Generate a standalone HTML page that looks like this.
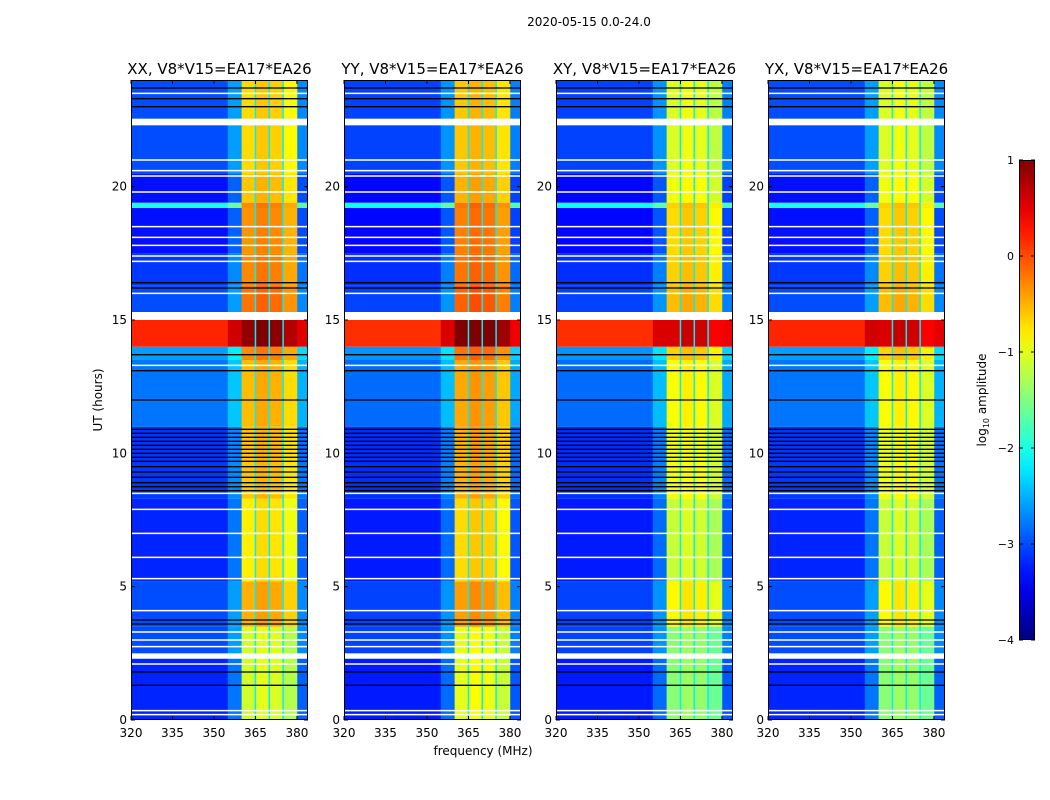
<!DOCTYPE html>
<html><head><meta charset="utf-8">
<style>
html,body{margin:0;padding:0;background:#fff;}
svg{display:block;font-family:"DejaVu Sans","Liberation Sans",sans-serif;}
</style></head>
<body>
<svg id="chart" width="1050" height="800" viewBox="0 0 1050 800">
<text x="589" y="26" font-size="12" text-anchor="middle">2020-05-15 0.0-24.0</text>
<g id="panels"></g>
<g id="cbar"></g>
<text transform="translate(986,400) rotate(-90)" font-size="12" text-anchor="middle">log<tspan font-size="8" dy="3">10</tspan><tspan dy="-3"> amplitude</tspan></text>
</svg>
<script>
// ---- data ----
const panelTitles = ["XX, V8*V15=EA17*EA26","YY, V8*V15=EA17*EA26","XY, V8*V15=EA17*EA26","YX, V8*V15=EA17*EA26"];
const panelBandOffset = [0, 0.1, -0.35, -0.35];
const panelBgOffset = [0, -0.05, -0.05, 0];
const segStart = [0, 2.3, 3.5, 5.2, 8.3, 11, 13.5, 14.0, 15.3, 16.3, 17.5, 19.2, 19.4, 20.5];
const segEnd   = [2.3, 3.5, 5.2, 8.3, 11, 13.5, 14.0, 15.0, 16.3, 17.5, 19.2, 19.4, 20.5, 24];
const segBg    = [-3.2, -3.0, -3.0, -3.2, -3.1, -2.8, -2.6, 0.2, -3.0, -3.1, -3.3, -2.0, -3.3, -3.0];
const segBand  = [-1.1, -1.1, -0.5, -0.8, -0.6, -0.55, -0.3, 0.9, -0.2, -0.3, -0.35, -0.3, -0.6, -0.7];
const subbandFreq = [360, 365, 370, 375];
const subbandDelta = [0, 0.1, 0.05, -0.15];
const whiteFlags = [0.2, 0.35, 2.1, 2.75, 3.0, 3.3, 4.1, 5.3, 6.1, 7.0, 7.9, 8.5, 13.3, 16.0, 17.2, 17.4, 17.8, 18.1, 18.5, 19.8, 20.4, 20.6, 21.0, 23.5];
const whiteBlocks = [[2.3, 2.5], [15.0, 15.3], [22.3, 22.55]];
const blackFlags = [1.3, 1.8, 3.6, 3.75, 8.6, 8.75, 8.9, 9.1, 9.3, 9.5, 9.7, 9.85, 10.0, 10.15, 10.3, 10.45, 10.6, 10.75, 10.9, 12.0, 13.1, 13.7, 16.2, 16.4, 23.0, 23.3, 23.7];
const xTicks = [320, 335, 350, 365, 380];
const yTicks = [0, 5, 10, 15, 20];
const cbarTicks = [1, 0, -1, -2, -3, -4];

// ---- layout ----
const NS = "http://www.w3.org/2000/svg";
const panelLeft = [131, 344, 556, 768];
const PW = 177, PT = 80, PB = 720;
const fMin = 320, fMax = 384, tMax = 24;
function xs(p, f){ return panelLeft[p] + (f - fMin) / (fMax - fMin) * PW; }
function ys(h){ return PB - h / tMax * (PB - PT); }
function jet(v){
  let t = (v + 4) / 5; t = Math.max(0, Math.min(1, t));
  const c = x => Math.round(255 * Math.max(0, Math.min(1, x)));
  return `rgb(${c(1.5-Math.abs(4*t-3))},${c(1.5-Math.abs(4*t-2))},${c(1.5-Math.abs(4*t-1))})`;
}
function mk(tag, attrs, parent){
  const e = document.createElementNS(NS, tag);
  for (const k in attrs) e.setAttribute(k, attrs[k]);
  parent.appendChild(e); return e;
}
const root = document.getElementById("panels");
for (let p = 0; p < 4; p++){
  const g = mk("g", {}, root);
  
  
  for (let s = 0; s < segStart.length; s++){
    const y0 = ys(segEnd[s]), y1 = ys(segStart[s]);
    const bg = segBg[s] + panelBgOffset[p];
    let r = mk("rect", {x: xs(p,320), y: y0, width: xs(p,355)-xs(p,320)+0.5, height: y1-y0, fill: jet(bg)}, g);
    
    
    r = mk("rect", {x: xs(p,355), y: y0, width: xs(p,360)-xs(p,355)+0.5, height: y1-y0, fill: jet(bg + 0.4)}, g);
    
    
    r = mk("rect", {x: xs(p,380), y: y0, width: xs(p,384)-xs(p,380), height: y1-y0, fill: jet(bg + 0.3)}, g);
    
    
    for (let k = 0; k < subbandFreq.length; k++){
      const v = segBand[s] + panelBandOffset[p] + subbandDelta[k];
      r = mk("rect", {x: xs(p,subbandFreq[k]), y: y0, width: xs(p,subbandFreq[k]+5)-xs(p,subbandFreq[k])+0.3, height: y1-y0, fill: jet(v)}, g);
      
      
    }
  }
  for (let k = 1; k < subbandFreq.length; k++){
    const l = mk("line", {x1: xs(p,subbandFreq[k]), x2: xs(p,subbandFreq[k]), y1: PT, y2: PB, stroke: jet(-2.2), "stroke-width": 1.5}, g);
    
    
  }
  for (const b of whiteBlocks){
    const r = mk("rect", {x: panelLeft[p], y: ys(b[1]), width: PW, height: ys(b[0])-ys(b[1]), fill: "#fff"}, g);
    
    
  }
  for (const h of whiteFlags){
    const l = mk("line", {x1: panelLeft[p], x2: panelLeft[p]+PW, y1: ys(h), y2: ys(h), stroke: "#fff", "stroke-width": 1.5}, g);
    
    
  }
  for (const h of blackFlags){
    const l = mk("line", {x1: panelLeft[p], x2: panelLeft[p]+PW, y1: ys(h), y2: ys(h), stroke: "#000", "stroke-width": 1.3}, g);
    
    
  }
  let fr = mk("rect", {x: panelLeft[p]+0.5, y: PT+0.5, width: PW-1, height: PB-PT-1, fill: "none", stroke: "#000", "stroke-width": 1}, g);
  
  
  let t = mk("text", {x: panelLeft[p]+PW/2, y: 74, "font-size": 15, "text-anchor": "middle"}, g);
  t.textContent = panelTitles[p];
  
  
  for (const f of xTicks){
    const x = xs(p,f);
    mk("line", {x1: x, x2: x, y1: PB, y2: PB-4, stroke: "#000"}, g);
    mk("line", {x1: x, x2: x, y1: PT, y2: PT+4, stroke: "#000"}, g);
    t = mk("text", {x: x, y: PB+17, "font-size": 12, "text-anchor": "middle"}, g);
    t.textContent = f;
    
    
  }
  for (const h of yTicks){
    const y = ys(h);
    mk("line", {x1: panelLeft[p], x2: panelLeft[p]+4, y1: y, y2: y, stroke: "#000"}, g);
    mk("line", {x1: panelLeft[p]+PW, x2: panelLeft[p]+PW-4, y1: y, y2: y, stroke: "#000"}, g);
    t = mk("text", {x: panelLeft[p]-4, y: y+4, "font-size": 12, "text-anchor": "end"}, g);
    t.textContent = h;
    
    
  }
}
let xl = mk("text", {x: 483, y: 755, "font-size": 12, "text-anchor": "middle"}, root);
xl.textContent = "frequency (MHz)";


let yl = mk("text", {x: 0, y: 0, "font-size": 12, "text-anchor": "middle", transform: "translate(102,400) rotate(-90)"}, root);
yl.textContent = "UT (hours)";



// colorbar
const cb = document.getElementById("cbar");


const defs = mk("defs", {}, cb);
const grad = mk("linearGradient", {id: "jetg", x1: 0, y1: 1, x2: 0, y2: 0}, defs);
for (let i = 0; i <= 20; i++){
  mk("stop", {offset: i/20, "stop-color": jet(-4 + 5*i/20)}, grad);
}
const CBT = 160, CBB = 640;
function cy(v){ return CBB - (v + 4) / 5 * (CBB - CBT); }
let cr = mk("rect", {x: 1019.5, y: CBT+0.5, width: 15, height: CBB-CBT-1, fill: "url(#jetg)", stroke: "#000", "stroke-width": 1}, cb);


for (const v of cbarTicks){
  const y = cy(v);
  mk("line", {x1: 1019, x2: 1023, y1: y, y2: y, stroke: "#000"}, cb);
  mk("line", {x1: 1035, x2: 1031, y1: y, y2: y, stroke: "#000"}, cb);
  const t = mk("text", {x: 1014, y: y+4, "font-size": 11, "text-anchor": "end"}, cb);
  t.textContent = v < 0 ? "\u2212" + (-v) : v;
  
  
}
</script>
</body></html>
